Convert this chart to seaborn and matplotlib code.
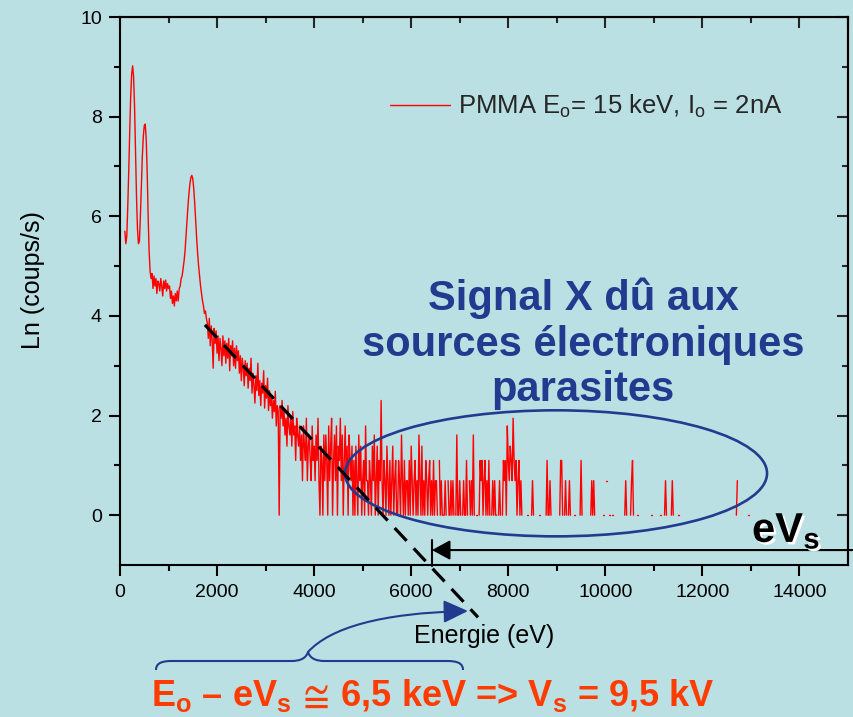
import numpy as np
import pandas as pd
import matplotlib
matplotlib.use("Agg")
import matplotlib.pyplot as plt
import seaborn as sns
from matplotlib.patches import Ellipse, FancyArrowPatch, PathPatch
from matplotlib.path import Path
from matplotlib.lines import Line2D
from matplotlib.transforms import IdentityTransform
import matplotlib.patheffects as pe

# ---------------- data ----------------
channel_width = 20          # eV
first_channel = 100         # eV
n_channels = 646            # 100 ... 13000 eV

# Ln(coups/s), channels 100 ... 1780 eV (C and O peaks, plateau, Al peak)
ln_peaks = [5.70, 5.45, 5.60, 6.20, 6.90, 7.70, 8.40, 8.85, 9.02, 8.80,
            8.20, 7.30, 6.40, 5.75, 5.45, 5.50, 6.00, 6.60, 7.20, 7.60,
            7.82, 7.85, 7.55, 6.90, 6.00, 5.30, 4.90, 4.75, 4.85, 4.55,
            4.80, 4.60, 4.75, 4.45, 4.70, 4.65, 4.50, 4.75, 4.60, 4.40,
            4.70, 4.55, 4.72, 4.50, 4.65, 4.55, 4.60, 4.35, 4.50, 4.25,
            4.40, 4.20, 4.45, 4.30, 4.50, 4.30, 4.55, 4.60, 4.75, 4.80,
            4.95, 5.10, 5.30, 5.60, 5.90, 6.20, 6.45, 6.65, 6.78, 6.82,
            6.75, 6.55, 6.25, 5.90, 5.55, 5.25, 5.00, 4.80, 4.60, 4.45,
            4.30, 4.20, 4.05, 4.10, 3.95]
# Ln(coups/s), channels 1800 ... 3080 eV (noisy decay)
ln_decay = [3.85, 3.55, 3.95, 3.40, 3.80, 3.50, 2.95, 3.75, 3.45, 3.70,
            3.25, 3.60, 3.10, 3.55, 3.35, 3.00, 3.60, 3.20, 3.50, 3.05,
            3.45, 3.15, 3.55, 2.90, 3.40, 3.20, 3.50, 3.00, 3.35, 2.95,
            3.40, 3.10, 3.30, 2.85, 3.20, 2.70, 3.15, 2.95, 2.60, 3.10,
            2.80, 3.05, 2.55, 2.95, 2.70, 3.15, 2.45, 2.85, 2.60, 2.25,
            2.80, 2.50, 3.05, 2.40, 2.70, 2.20, 2.65, 2.45, 2.90, 2.15,
            2.60, 2.35, 2.75, 2.10, 2.50]
# coups/s, channels 3100 ... 7200 eV (0 = no count)
counts_tail = [9, 11, 7, 10, 8, 12, 6, 9, 8, 1, 9, 7, 10, 6,
               8, 5, 7, 4, 9, 6, 5, 7, 4, 8, 5, 6, 3, 7, 5, 4, 6,
               3, 5, 2, 6, 4, 3, 7, 2, 4, 5, 3, 2, 6, 3,
               4, 2, 5, 3, 7, 2, 1, 4, 3, 1, 5, 2,
               5, 3, 1, 6, 2, 4, 7, 1, 3, 5, 2, 6, 1, 4, 3, 7, 2, 5, 1, 3,
               6, 2, 4, 1, 5, 3, 2, 4, 1,
               3, 1, 4, 2, 1, 5, 2, 4, 1, 2, 3, 1, 6, 2, 2, 1, 3, 2, 1, 4,
               2, 5, 1, 2, 4, 1, 3, 2, 10, 2, 1, 3, 2, 1, 4,
               2, 1, 3, 1, 2, 4, 1, 2, 3, 1, 1, 3, 2, 1, 5, 2, 1, 3, 1, 2,
               2, 1, 3, 1, 4, 2, 1, 2, 3, 1, 2, 1, 5, 2, 1, 4, 1, 2, 1, 3,
               2, 1, 2, 3, 1,
               2, 1, 3, 1, 2, 2, 1, 0, 3, 1, 2, 1, 1, 1, 2, 1, 0, 2, 1, 1,
               2, 1, 2, 1, 0, 1, 5, 1, 1, 2, 1, 0, 1, 2, 1, 1, 3, 1, 0, 2]
# isolated counts beyond 7200 eV
sparse_energy = [7220, 7240, 7260, 7280, 7300, 7340, 7360, 7400, 7420, 7440,
                 7460, 7480, 7500, 7520, 7540, 7560, 7580, 7600, 7620, 7660,
                 7680, 7700, 7720, 7740, 7760, 7800, 7820, 7840, 7880, 7900,
                 7920, 7940, 7960, 7980, 8000, 8020, 8040, 8060, 8080, 8100,
                 8120, 8140, 8160, 8180, 8200, 8220, 8240, 8260, 8280, 8380,
                 8400, 8480, 8500, 8520, 8640, 8660, 8780, 8800, 8820, 8840,
                 8860, 8880, 9060, 9080, 9100, 9120, 9160, 9180, 9200, 9240,
                 9260, 9280, 9360, 9380, 9480, 9500, 9520, 9700, 9720, 9740,
                 9760, 9780, 9880, 9900, 9960, 9980, 10020, 10040, 10080, 10100,
                 10140, 10160, 10400, 10420, 10440, 10520, 10540, 10560, 10580, 10660,
                 10680, 10940, 10960, 11120, 11140, 11220, 11240, 11260, 11360, 11380,
                 11400, 11500, 11520, 12700, 12720, 12940, 12960]
sparse_counts = [1, 2, 1, 5, 1, 1, 1, 1, 3, 2,
                 3, 1, 2, 3, 1, 2, 1, 3, 1, 1,
                 2, 1, 2, 1, 1, 1, 2, 1, 1, 3,
                 2, 3, 1, 6, 3, 2, 4, 3, 2, 7,
                 3, 2, 3, 1, 2, 3, 1, 2, 1, 1,
                 1, 1, 2, 1, 1, 1, 1, 3, 1, 1,
                 2, 1, 1, 3, 3, 1, 1, 2, 1, 1,
                 2, 1, 1, 1, 1, 3, 1, 1, 2, 1,
                 2, 1, 1, 1, 1, 1, 2, 2, 1, 1,
                 1, 1, 1, 2, 1, 1, 2, 3, 1, 1,
                 1, 1, 1, 1, 1, 1, 2, 1, 1, 2,
                 1, 1, 1, 1, 2, 1, 1]

x_ticks = [0, 2000, 4000, 6000, 8000, 10000, 12000, 14000]
y_ticks = [0, 2, 4, 6, 8, 10]
legend_label = r"PMMA E$_\mathrm{o}$= 15 keV, I$_\mathrm{o}$ = 2nA"
x_label = "Energie (eV)"
y_label = "Ln (coups/s)"
region_text = "Signal X dû aux\nsources électroniques\nparasites"
result_text = r"E$_\mathbf{o}$ – eV$_\mathbf{s}$$\mathbf{\,\cong\,}$6,5 keV => V$_\mathbf{s}$ = 9,5 kV"
evs_text = r"eV$_\mathbf{s}$"

# ---------------- assemble the spectrum ----------------
energy = first_channel + channel_width * np.arange(n_channels)
ln_all = np.full(n_channels, np.nan)
head = np.array(ln_peaks + ln_decay, dtype=float)
ln_all[:len(head)] = head
ct = np.array(counts_tail, dtype=float)
start = len(head)
ln_all[start:start + len(ct)] = np.where(ct > 0, np.log(np.where(ct > 0, ct, 1)), np.nan)
for e_, c_ in zip(sparse_energy, sparse_counts):
    ln_all[(e_ - first_channel) // channel_width] = np.log(c_)
seg = np.cumsum(np.isnan(ln_all))
df = pd.DataFrame({"E": energy, "ln": ln_all, "seg": seg}).dropna()

# ---------------- style ----------------
BG = "#BAE0E4"
BLUE = "#233B8E"
sns.set_theme(style="ticks")
plt.rcParams["font.family"] = ["Liberation Sans", "DejaVu Sans"]
plt.rcParams["mathtext.fontset"] = "custom"
plt.rcParams["mathtext.rm"] = "Liberation Sans"
plt.rcParams["mathtext.it"] = "Liberation Sans:italic"
plt.rcParams["mathtext.bf"] = "Liberation Sans:bold"
plt.rcParams["mathtext.sf"] = "Liberation Sans"

W, H = 854, 717
fig = plt.figure(figsize=(W / 100, H / 100), dpi=100, facecolor=BG)
ax = fig.add_axes([120 / W, 1 - 565 / H, (848 - 120) / W, (565 - 17) / H])
ax.set_facecolor(BG)

sns.lineplot(data=df, x="E", y="ln", units="seg", estimator=None, sort=False,
             color="#FF0000", linewidth=1.0, legend=False, ax=ax, zorder=3)

ax.set_xlim(0, 15000)
ax.set_ylim(-1, 10)
ax.set_xticks(x_ticks)
ax.set_xticks([1000, 3000, 5000, 7000, 9000, 11000, 13000], minor=True)
ax.set_yticks(y_ticks)
ax.set_yticks([1, 3, 5, 7, 9], minor=True)
ax.set_xticklabels([str(v) for v in x_ticks])
ax.set_yticklabels([str(v) for v in y_ticks])
for s in ax.spines.values():
    s.set_visible(True)
    s.set_linewidth(1.5)
    s.set_color("black")
ax.tick_params(which="both", direction="out", width=1.5, color="black",
               labelsize=14, labelcolor="black")
ax.tick_params(which="major", length=8)
ax.tick_params(which="minor", length=4.5)
ax.tick_params(axis="x", which="major", pad=6)
ax.tick_params(axis="y", which="major", pad=5)

secx = ax.secondary_xaxis("top")
secx.set_xticks(x_ticks + [15000])
secx.set_xticks([1000, 3000, 5000, 7000, 9000, 11000, 13000], minor=True)
secx.tick_params(which="both", direction="in", width=1.5, labeltop=False)
secx.tick_params(which="major", length=8)
secx.tick_params(which="minor", length=4.5)
secx.spines["top"].set_linewidth(1.5)
secy = ax.secondary_yaxis("right")
secy.set_yticks(y_ticks)
secy.set_yticks([1, 3, 5, 7, 9], minor=True)
secy.tick_params(which="both", direction="in", width=1.5, labelright=False)
secy.tick_params(which="major", length=8)
secy.tick_params(which="minor", length=4.5)
secy.spines["right"].set_linewidth(1.5)

ax.set_xlabel(x_label, fontsize=18, color="black")
ax.set_ylabel(y_label, fontsize=18, color="black")
ax.xaxis.set_label_coords(0.5, -0.108)
ax.yaxis.set_label_coords(-0.103, 0.52)

ax.legend(handles=[Line2D([], [], color="#FF0000", lw=1.0)], labels=[legend_label],
          loc="center left", bbox_to_anchor=(0.371, 0.837), frameon=False,
          fontsize=18.5, handlelength=2.35, handletextpad=0.3, borderpad=0,
          borderaxespad=0)

# ---------------- annotations ----------------
# extrapolated dashed line
ax.plot([1751, 7377], [3.82, -2.05], color="black", lw=2.3, ls=(0, (5.5, 3.2)),
        clip_on=False, zorder=5)
# ellipse around the parasitic signal
ax.add_patch(Ellipse((8984, 0.84), 8696, 2.53, fill=False, edgecolor=BLUE,
                     lw=1.9, clip_on=False, zorder=4))
# eVs arrow
ax.annotate("", xy=(6429, -0.70), xytext=(15124, -0.70),
            arrowprops=dict(arrowstyle="-|>,head_length=0.55,head_width=0.3",
                            color="black", lw=1.5, mutation_scale=20,
                            shrinkA=0, shrinkB=0),
            annotation_clip=False, zorder=6)
ax.plot([6429, 6429], [-0.49, -1.03], color="black", lw=1.5, clip_on=False, zorder=6)

fig.text(583 / W, 1 - 344 / H, region_text, ha="center", va="center",
         fontsize=30, fontweight="bold", color=BLUE, linespacing=1.17)
fig.text(752 / W, 1 - 542 / H, evs_text, ha="left", va="baseline",
         fontsize=30, fontweight="bold", color="black",
         path_effects=[pe.SimplePatchShadow(offset=(1.8, -1.8), shadow_rgbFace="white", alpha=1.0),
                       pe.Normal()])
fig.text(433 / W, 1 - 706 / H, result_text, ha="center", va="baseline",
         fontsize=26, fontweight="bold", color="#FF3C00")

def P(x, y):
    return (x, H - y)

# curly brace
brace = Path([P(156, 670), P(156, 663), P(162, 661), P(172, 661),
              P(291, 661),
              P(301, 661), P(306, 658), P(308, 652),
              P(310, 658), P(315, 661), P(325, 661),
              P(447, 661),
              P(457, 661), P(463, 663), P(463, 670)],
             [Path.MOVETO, Path.CURVE4, Path.CURVE4, Path.CURVE4,
              Path.LINETO,
              Path.CURVE4, Path.CURVE4, Path.CURVE4,
              Path.CURVE4, Path.CURVE4, Path.CURVE4,
              Path.LINETO,
              Path.CURVE4, Path.CURVE4, Path.CURVE4])
fig.add_artist(PathPatch(brace, transform=IdentityTransform(), fill=False,
                         edgecolor=BLUE, lw=1.5))
# curved arrow
curve = Path([P(308, 652), P(330, 628), P(380, 613), P(468, 611)],
             [Path.MOVETO, Path.CURVE4, Path.CURVE4, Path.CURVE4])
fig.add_artist(FancyArrowPatch(path=curve, transform=IdentityTransform(),
                               arrowstyle="-|>,head_length=0.75,head_width=0.35",
                               mutation_scale=20, color=BLUE, lw=1.5))

fig.savefig("out.png", dpi=100, facecolor=BG)
